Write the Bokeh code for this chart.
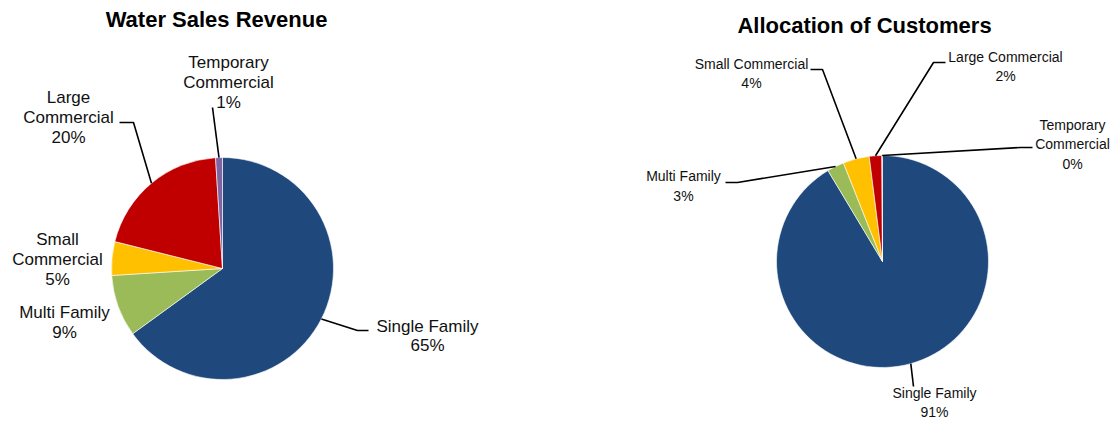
import numpy as np
from bokeh.plotting import figure
from bokeh.models import ColumnDataSource, Range1d
from bokeh.embed import file_html
from bokeh.resources import INLINE
from bokeh.core.properties import value

# ---------------- data ----------------
categories = ["Single Family", "Multi Family", "Small Commercial",
              "Large Commercial", "Temporary Commercial"]
revenue_pct = [65.0, 9.0, 4.9, 20.1, 1.0]
customers_pct = [91.4, 2.6, 4.0, 1.9, 0.1]
colors = ["#1F497D", "#9BBB59", "#FFC000", "#C00000", "#8064A2"]
revenue_names = ["Single Family", "Multi Family", "Small\nCommercial",
                 "Large\nCommercial", "Temporary\nCommercial"]
customer_names = ["Single Family", "Multi Family", "Small Commercial",
                  "Large Commercial", "Temporary\nCommercial"]
titles = ["Water Sales Revenue", "Allocation of Customers"]

# ---------------- layout ----------------
W, H = 1112, 421
def fy(ypx):
    return H - ypx

p = figure(width=W, height=H, x_range=Range1d(0, W), y_range=Range1d(0, H),
           output_backend="svg", toolbar_location=None, min_border=0,
           background_fill_color="white", border_fill_color="white")
p.axis.visible = False
p.grid.visible = False
p.outline_line_color = None

charts = [
    dict(vals=revenue_pct, names=revenue_names, cx=222, cy=268, r=111,
         title_xy=(216, 19), font_size="17px", line_h=1.04,
         label_xy=[(427, 335.5), (64, 322), (57, 259), (68, 117), (228, 82)],
         leader=[[(357, 330), (368, 330)], None, None,
                 [(133, 122), (119, 122)], [(212, 107)]]),
    dict(vals=customers_pct, names=customer_names, cx=882, cy=261, r=106,
         title_xy=(864, 25), font_size="14px", line_h=1.2,
         label_xy=[(934, 402), (683, 185.5), (751, 73), (1005, 66), (1072, 144)],
         leader=[[(913, 386)], [(737, 182), (725, 182)], [(822, 69), (810, 69)],
                 [(933, 62), (945, 62)], [(1020, 147), (1032, 147)]]),
]

for ch in charts:
    vals = np.array(ch["vals"], dtype=float)
    frac = vals / vals.sum()
    theta_end = np.cumsum(frac) * 2 * np.pi        # clockwise from 12 o'clock
    theta_start = theta_end - frac * 2 * np.pi
    src = ColumnDataSource(dict(
        start=np.pi / 2 - theta_end,
        end=np.pi / 2 - theta_start,
        color=colors,
        cat=categories,
    ))
    p.wedge(x=ch["cx"], y=fy(ch["cy"]), radius=ch["r"], start_angle="start",
            end_angle="end", direction="anticlock", fill_color="color",
            line_color="white", line_width=0.6, source=src)

    # leader lines, starting at the slice's middle on the rim
    xs, ys = [], []
    mids = (theta_start + theta_end) / 2
    for mid, pts in zip(mids, ch["leader"]):
        if pts is None:
            continue
        sx = ch["cx"] + ch["r"] * np.sin(mid)
        sy = ch["cy"] - ch["r"] * np.cos(mid)
        xs.append([sx] + [q[0] for q in pts])
        ys.append([fy(sy)] + [fy(q[1]) for q in pts])
    p.multi_line(xs=xs, ys=ys, line_color="black", line_width=1.6)

    # labels
    texts = [f"{n}\n{round(v):.0f}%" for n, v in zip(ch["names"], vals)]
    p.text(x=[q[0] for q in ch["label_xy"]], y=[fy(q[1]) for q in ch["label_xy"]],
           text=texts, text_align="center", text_baseline="middle",
           text_font=value("Liberation Sans"), text_font_size=ch["font_size"],
           text_color="#111111", text_line_height=ch["line_h"])

for t, ch in zip(titles, charts):
    p.text(x=[ch["title_xy"][0]], y=[fy(ch["title_xy"][1])], text=[t],
           text_align="center", text_baseline="middle",
           text_font=value("Liberation Sans"), text_font_size="22px",
           text_font_style="bold", text_color="black")

open("out.html", "w").write(file_html(p, INLINE))
